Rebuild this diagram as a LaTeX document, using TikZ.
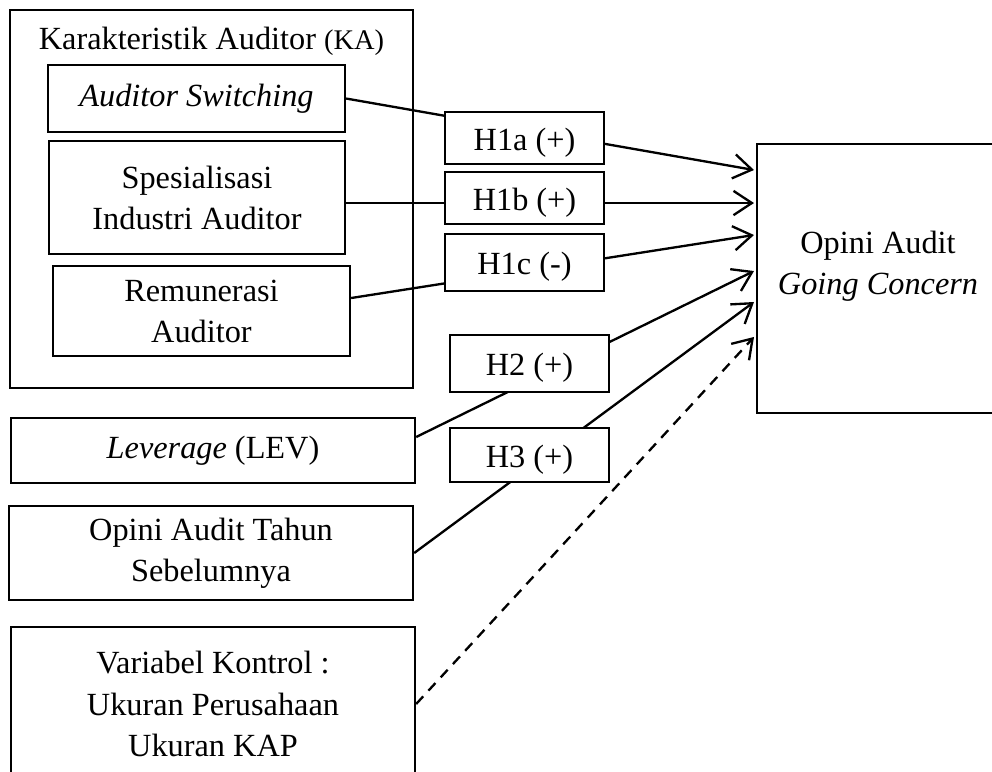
\documentclass[tikz,border=0pt]{standalone}
\usepackage{fontspec}
\setmainfont{Liberation Serif}
\usetikzlibrary{arrows.meta}

\begin{document}
\begin{tikzpicture}[
    every node/.style={font=\fontsize{12.5}{15.9}\selectfont},
    box/.style={draw, line width=0.9pt, fill=white, align=center, inner sep=0pt},
    hyp/.style={box, minimum width=2.162cm, text height=9.3pt, text depth=0pt},
    link/.style={line width=0.9pt, -{Straight Barb[length=2.5mm, width=3.3mm]}},
]
\useasboundingbox (0,0) rectangle (13.491,-10.486);

% Karakteristik Auditor
\node[box, minimum width=5.481cm, minimum height=5.141cm] (ka) at (2.876,-2.706) {};
\node[anchor=base] (katitle) at (2.876,-0.68) {Karakteristik Auditor {\fontsize{11}{12}\selectfont(KA)}};
\node[box, minimum width=4.039cm, minimum height=0.911cm] (as) at (2.672,-1.340) {\textit{Auditor Switching}};
\node[box, minimum width=4.026cm, minimum height=1.537cm] (sia) at (2.679,-2.686) {Spesialisasi\\Industri Auditor};
\node[box, minimum width=4.039cm, minimum height=1.224cm] (ra) at (2.740,-4.230) {Remunerasi\\Auditor};

% other variables
\node[box, minimum width=5.494cm, minimum height=0.884cm] (lev) at (2.897,-6.127) {\textit{Leverage} (LEV)};
\node[box, minimum width=5.494cm, minimum height=1.278cm] (oat) at (2.870,-7.521) {Opini Audit Tahun\\Sebelumnya};
\node[box, minimum width=5.494cm, minimum height=2.094cm] (vk) at (2.897,-9.574) {Variabel Kontrol :\\Ukuran Perusahaan\\Ukuran KAP};

% dependent variable
\node[box, minimum width=3.305cm, minimum height=3.658cm] (ogc) at (11.948,-3.788) {};
\node[align=center] (ogctext) at (11.941,-3.624) {Opini Audit\\\textit{Going Concern}};

% arrow ends
\coordinate (t1) at (10.254,-2.312);
\coordinate (t2) at (10.254,-2.761);
\coordinate (t3) at (10.254,-3.196);
\coordinate (t4) at (10.254,-3.686);
\coordinate (t5) at (10.254,-4.107);
\coordinate (t6) at (10.254,-4.583);

% connectors
\draw[link] (as.east) -- (t1);
\draw[link] (sia.east |- t2) -- (t2);
\draw[link] ([yshift=0.177cm]ra.east) -- (t3);
\draw[link] ([yshift=0.184cm]lev.east) -- (t4);
\draw[link] (oat.east) -- (t5);
\draw[link, dash pattern=on 4pt off 3pt] (vk.east) -- (t6);

% hypotheses
\foreach \nm/\txt/\x/\y/\h in {
  h1a/{H1a (+)}/7.133/-1.877/0.707,
  h1b/{H1b (+)}/7.133/-2.693/0.707,
  h1c/{H1c (-)}/7.133/-3.570/0.775,
  h2/{H2 (+)}/7.201/-4.944/0.775,
  h3/{H3 (+)}/7.201/-6.188/0.734
}{
  \node[hyp, minimum height=\h cm] (\nm) at (\x,\y) {\txt};
}

\end{tikzpicture}
\end{document}
